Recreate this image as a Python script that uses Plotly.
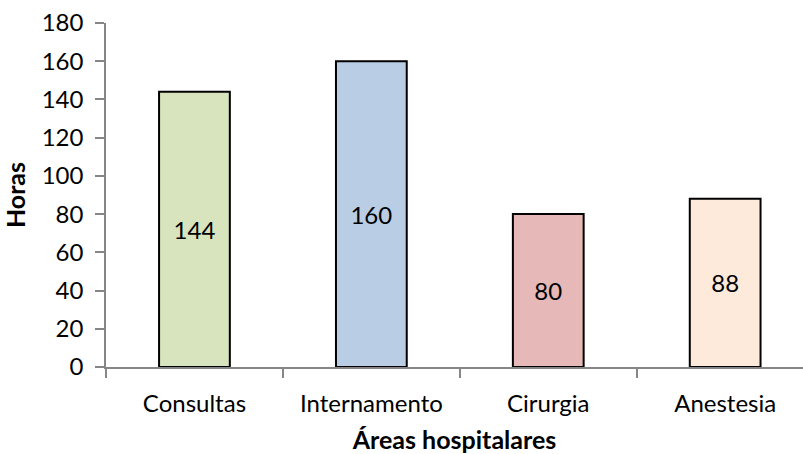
import plotly.graph_objects as go

categories = ["Consultas", "Internamento", "Cirurgia", "Anestesia"]
hours = [144, 160, 80, 88]
bar_colors = ["#D7E4BD", "#B9CDE5", "#E6B9B8", "#FDEADA"]
y_ticks = list(range(0, 181, 20))

FONT = "Lato, Calibri, sans-serif"

fig = go.Figure(
    go.Bar(
        x=categories,
        y=hours,
        marker=dict(color=bar_colors, line=dict(color="#000000", width=2)),
        width=0.4,
        text=[str(v) for v in hours],
        textposition="inside",
        insidetextanchor="middle",
        textfont=dict(family=FONT, size=24, color="#000000"),
        textangle=0,
    )
)

fig.update_layout(
    width=803,
    height=454,
    margin=dict(l=106, r=0, t=23, b=87),
    paper_bgcolor="white",
    plot_bgcolor="white",
    font=dict(family=FONT, size=24, color="#000000"),
    showlegend=False,
    bargap=0.6,
)

fig.update_yaxes(
    range=[0, 180],
    tickvals=y_ticks,
    tickfont=dict(size=24),
    showgrid=False,
    zeroline=False,
    showline=True,
    linecolor="#868686",
    linewidth=1.5,
    ticks="outside",
    ticklen=9,
    tickcolor="#868686",
    tickwidth=1.5,
    ticklabelstandoff=7,
    title=dict(text="<b>Horas</b>", font=dict(family=FONT, size=25), standoff=9),
    automargin=False,
)

fig.update_xaxes(
    range=[-0.5, 3.44],
    tickfont=dict(size=24),
    showgrid=False,
    showline=True,
    linecolor="#868686",
    linewidth=1.5,
    ticks="outside",
    tickson="boundaries",
    ticklen=9,
    tickcolor="#868686",
    tickwidth=1.5,
    ticklabelstandoff=14,
    title=dict(text="<b>Áreas hospitalares</b>", font=dict(family=FONT, size=25), standoff=16),
    automargin=False,
)

fig.write_html("out.html")
